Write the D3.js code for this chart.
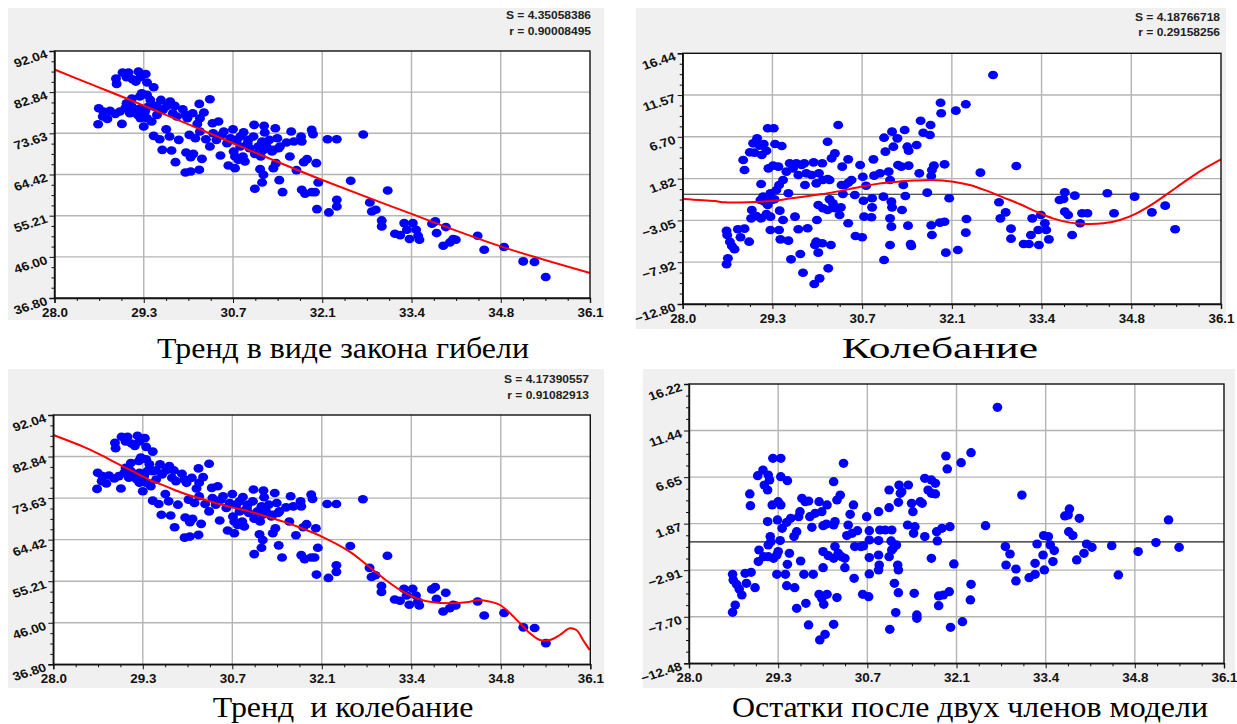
<!DOCTYPE html>
<html>
<head>
<meta charset="utf-8">
<script src="https://cdn.jsdelivr.net/npm/d3@7"></script>
<style>
  body { margin: 0; background: #ffffff; }
  svg { display: block; }
</style>
</head>
<body>
<svg id="chart" width="1237" height="724"></svg>
<script>
// ---- axis ticks ----
const xTickValues = [28.0, 29.35, 30.7, 32.05, 33.4, 34.75, 36.1];
const xTickLabels = ["28.0", "29.3", "30.7", "32.1", "33.4", "34.8", "36.1"];
const obsYTicks = [36.80, 46.00, 55.21, 64.42, 73.63, 82.84, 92.04];
const oscYTicks = [-12.80, -7.92, -3.05, 1.82, 6.70, 11.57, 16.44];
const residYTicks = [-12.48, -7.70, -2.91, 1.87, 6.65, 11.44, 16.22];

// ---- observations [x, y] ----
const observations = [
  [28.93,85.87],[28.94,84.68],[29.03,87.21],[29.12,87.21],[29.09,86.17],[29.18,85.72],[29.27,87.43],[29.30,86.17],
  [29.38,86.91],[29.40,84.98],[29.50,83.93],[29.23,85.20],[29.32,82.59],[29.40,82.22],[29.29,81.85],
  [28.67,79.24],[28.66,75.67],[28.73,77.38],[28.80,76.86],[28.84,78.65],[28.92,77.98],[29.02,75.74],[29.07,79.24],
  [29.17,81.40],[29.14,78.12],[29.22,78.87],[29.26,77.75],[29.35,75.14],[29.40,77.01],[29.47,76.26],[29.50,79.61],
  [29.55,77.75],[29.61,81.10],[29.64,78.87],[29.70,79.76],[29.75,80.73],[29.79,78.12],[29.82,79.76],[29.85,77.38],
  [29.94,79.02],[29.98,77.75],[30.01,77.01],[30.09,78.12],[30.16,75.74],[30.19,80.21],[30.26,78.27],[30.35,81.25],
  [30.20,77.01],[29.45,81.10],[29.55,79.76],
  [29.50,73.06],[29.59,72.32],[29.69,74.55],[29.74,72.91],[29.63,69.93],[29.77,69.78],[29.83,67.18],[29.88,72.17],
  [29.98,64.87],[30.06,65.10],[30.19,65.47],[29.99,69.34],[30.06,68.30],[30.10,69.04],[30.23,67.92],[30.04,73.28],
  [30.13,72.54],[30.20,74.03],[30.29,72.32],[30.35,70.68],[30.39,75.89],[30.48,76.26],[30.40,73.66],[30.51,68.67],
  [30.53,73.28],[30.61,71.42],[30.63,66.44],[30.70,74.55],[30.73,65.84],[30.71,69.56],[30.76,72.17],[30.81,70.68],
  [30.85,68.44],[30.88,67.33],[30.86,73.88],[30.92,71.42],[30.95,70.31],[31.02,75.52],[31.01,72.91],[31.03,69.04],
  [31.08,70.68],[31.12,68.44],[31.17,75.30],[31.18,73.81],[31.11,65.62],[31.16,64.35],[31.14,62.64],[31.03,61.22],
  [31.21,70.68],[31.25,72.17],[31.29,69.56],[31.34,74.77],[31.37,72.54],[31.39,70.31],[31.31,65.84],[31.35,66.96],
  [31.40,63.16],[31.45,60.48],[31.51,71.57],[31.56,68.44],[31.58,74.03],[31.62,71.80],[31.66,65.40],[31.73,72.91],
  [31.74,71.80],[31.77,67.18],[31.82,67.85],[31.89,74.40],[31.91,73.43],[31.74,61.00],[31.79,60.11],[31.89,60.48],
  [31.94,60.48],[31.96,66.96],[31.97,56.68],[31.99,62.64],
  [32.13,72.32],[32.27,72.32],[32.67,73.36],[32.15,55.94],[32.27,58.76],[32.27,57.28],[32.48,63.01],[32.77,58.17],
  [32.80,56.16],[32.86,56.53],[33.04,60.85],[32.95,54.15],[32.95,52.81],[33.15,51.17],[33.23,50.87],[33.29,53.55],
  [33.33,52.06],[33.37,49.98],[33.42,53.55],[33.47,52.06],[33.50,50.72],[33.52,49.83],[33.71,53.40],[33.76,53.93],
  [33.78,51.32],[33.92,52.66],[33.88,48.49],[33.98,49.23],[34.03,49.98],[34.07,49.83],[34.40,50.72],[34.50,47.60],
  [34.80,48.19],[35.09,44.99],[35.26,44.84],[35.43,41.49],
  [29.09,80.36],[29.17,79.61],[29.30,79.24],[29.37,78.50],[29.42,79.61],[28.99,78.50],[28.74,78.50],[29.30,77.01],
  [30.45,72.17],[30.66,72.54],[30.56,74.03],[30.81,72.91],[30.93,72.17],[30.73,68.44],[30.78,67.70],[31.16,69.93],
  [31.31,69.93],[31.41,70.68],[31.14,71.80]
];

// ---- fitted trend ("закон гибели") ----
const trendCurve = [
  [28.0,87.9],[28.5,84.9],[29.35,79.84],[30.7,71.4],[31.71,65.2],[32.05,63.2],[33.4,55.6],[34.75,48.35],[36.1,42.4]
];

// ---- residuals after the trend [x, y] ----
const oscResiduals = [
  [28.66,-4.25],[28.67,-4.75],[28.71,-5.53],[28.74,-6.03],[28.78,-6.42],[28.83,-4.09],[28.87,-5.02],[28.93,-4.01],
  [29.00,-5.53],[28.68,-7.47],[28.66,-8.17],[28.91,4.00],[28.93,2.83],[29.01,4.89],[29.06,5.94],[29.12,6.52],
  [29.08,4.85],[29.16,5.67],[29.19,4.58],[29.22,5.86],[29.26,5.08],[29.28,7.69],[29.37,7.69],[29.29,3.02],
  [29.36,3.34],[29.39,5.86],[29.44,3.22],[29.49,5.63],[29.18,1.20],[29.21,-0.28],[29.17,-0.67],[29.23,-0.86],
  [29.28,-1.25],[29.34,-0.67],[29.38,-0.59],[29.32,0.11],[29.04,-1.84],[29.03,-2.81],[29.11,-2.54],[29.18,-2.81],
  [29.26,-2.30],[29.32,-2.61],[29.32,-4.17],[29.45,-4.17],[29.46,-1.91],[29.51,-3.00],[29.47,-5.26],[29.59,-5.41],
  [29.41,0.50],[29.45,1.08],[29.51,1.66],[29.59,0.11],[29.56,2.64],[29.61,3.61],[29.66,3.02],[29.71,3.61],
  [29.74,2.25],[29.79,3.41],[29.83,3.61],[29.84,1.08],[29.86,2.44],[29.94,2.25],[29.97,3.72],[30.01,1.27],
  [30.05,2.44],[30.10,3.61],[30.11,1.66],[30.18,1.78],[30.18,6.13],[30.21,1.66],[30.24,4.19],[30.29,4.77],
  [30.34,8.08],[30.40,3.22],[30.49,4.07],[29.69,-2.61],[29.74,-4.09],[29.88,-3.97],[29.63,-7.59],[29.77,-6.97],
  [29.81,-9.15],[29.98,-10.47],[30.06,-9.81],[30.19,-8.64],[29.99,-5.92],[30.01,-5.53],[30.04,-6.81],[30.10,-5.72],
  [30.23,-5.92],[30.02,-3.00],[30.04,-1.25],[30.11,-1.64],[30.18,-1.84],[30.21,-0.59],[30.26,-1.06],[30.29,-1.64],
  [30.38,-1.53],[30.36,-2.42],[30.39,1.08],[30.41,0.03],[30.44,1.08],[30.49,1.35],[30.49,-3.39],[30.54,1.66],
  [30.59,-0.09],[30.60,-4.87],[30.70,-5.02],[30.67,3.41],[30.71,2.05],[30.72,-0.75],[30.73,-2.61],[30.76,1.00],
  [30.85,-0.47],[30.85,-1.53],[30.84,-2.69],[30.87,4.07],[30.88,2.17],[30.97,2.44],[31.02,-0.28],[31.03,-7.67],
  [31.03,6.60],[31.05,4.97],[31.10,2.64],[31.12,1.66],[31.12,-5.92],[31.12,-2.81],[31.14,-3.78],[31.15,7.30],
  [31.17,5.55],[31.23,6.52],[31.14,-0.86],[31.15,-1.53],[31.24,3.41],[31.29,3.22],[31.30,-1.84],[31.32,1.08],
  [31.34,7.50],[31.38,5.55],[31.40,5.08],[31.40,3.34],[31.39,-3.66],[31.43,-5.80],[31.44,-6.03],[31.35,-0.20],
  [31.52,5.75],[31.56,2.44],[31.58,8.58],[31.62,7.18],[31.73,8.08],[31.72,6.91],[31.68,0.19],[31.75,2.83],
  [31.74,-3.62],[31.75,-4.75],[31.78,3.34],[31.74,2.13],[31.94,3.49],[32.01,-0.47],[31.87,-3.31],[31.94,-3.20],
  [31.96,-6.81],[32.14,-6.50],[31.88,10.68],[31.89,9.44],[32.11,9.75],[32.26,10.49],[32.27,-2.89],[32.26,-4.48],
  [32.48,2.52],[32.67,13.91],[33.02,3.30],[32.76,-0.94],[32.78,-2.81],[32.86,-2.11],[32.94,-4.01],[32.94,-5.18],
  [33.13,-5.80],[33.21,-5.80],[33.26,-2.81],[33.24,-4.75],[33.35,-4.17],[33.36,-5.92],[33.39,-2.42],[33.45,-3.39],
  [33.47,-4.17],[33.51,-5.26],[33.67,-0.67],[33.73,-0.55],[33.75,0.23],[33.75,-2.03],[33.80,-2.42],[33.90,-0.16],
  [33.86,-4.75],[33.98,-3.39],[34.01,-2.22],[34.09,-2.22],[34.39,0.11],[34.49,-2.22],[34.80,-0.28],[35.06,-2.11],
  [35.26,-1.33],[35.41,-4.09]
];

// ---- fitted oscillation ----
const oscCurve = [
  [28.0,-0.55],[28.48,-0.79],[28.63,-0.94],[28.98,-0.94],[29.33,-0.79],[29.64,-0.47],[29.99,-0.09],[30.24,0.19],
  [30.49,0.57],[30.74,0.96],[30.99,1.27],[31.24,1.47],[31.49,1.59],[31.74,1.66],[32.07,1.47],[32.32,1.08],
  [32.57,0.42],[32.82,-0.36],[33.07,-1.14],[33.32,-2.03],[33.57,-2.81],[33.83,-3.31],[34.08,-3.47],[34.33,-3.39],
  [34.58,-3.00],[34.83,-2.22],[35.08,-1.10],[35.33,0.25],[35.58,1.62],[35.83,2.90],[36.1,4.07]
];

// ---- trend plus oscillation ----
const trendOscCurve = [
  [28.0,87.61],[28.45,85.03],[28.70,83.33],[28.96,81.33],[29.21,79.49],[29.46,77.64],[29.71,76.17],[29.96,74.69],
  [30.21,73.58],[30.46,72.47],[30.71,71.51],[30.97,70.63],[31.22,69.52],[31.47,68.41],[31.72,67.10],[32.05,65.09],
  [32.47,61.76],[32.73,58.81],[32.98,55.85],[33.23,53.27],[33.48,51.42],[33.73,50.54],[33.98,50.32],[34.23,50.54],
  [34.42,51.05],[34.59,50.67],[34.74,49.94],[34.89,48.10],[35.04,45.88],[35.19,43.67],[35.34,42.18],[35.49,42.18],
  [35.64,43.29],[35.79,44.78],[35.89,44.40],[35.99,42.18],[36.09,39.97]
];

// ---- residuals after both terms [x, y] ----
const finalResiduals = [
  [28.66,-3.34],[28.67,-3.92],[28.72,-4.36],[28.76,-4.84],[28.80,-5.46],[28.85,-3.23],[28.87,-4.26],[28.94,-3.13],
  [29.00,-4.71],[28.70,-6.49],[28.66,-7.24],[28.92,4.92],[28.93,3.72],[29.04,6.80],[29.12,7.38],[29.14,5.84],
  [29.20,6.87],[29.22,6.36],[29.19,5.33],[29.27,8.58],[29.39,8.58],[29.39,6.70],[29.49,6.29],[29.26,3.79],
  [29.35,4.13],[29.39,3.79],[29.19,2.08],[29.34,2.25],[29.41,1.39],[29.38,0.13],[29.23,0.54],[29.20,-0.32],
  [29.24,0.02],[29.06,-0.84],[29.05,-2.03],[29.13,-1.52],[29.20,-1.52],[29.28,-1.69],[29.33,-1.35],[29.35,-1.00],
  [29.33,-3.34],[29.46,-3.34],[29.49,-2.31],[29.52,-1.18],[29.48,-4.50],[29.60,-4.71],[29.63,-6.83],[29.77,-6.32],
  [29.69,-1.97],[29.74,-3.34],[29.88,-3.34],[29.81,-8.54],[29.98,-10.08],[30.06,-9.50],[30.19,-8.47],[29.48,2.01],
  [29.54,2.42],[29.59,0.54],[29.63,1.05],[29.66,2.59],[29.68,3.10],[29.71,4.47],[29.76,4.13],[29.81,4.20],
  [29.83,2.59],[29.86,1.49],[29.91,2.93],[29.97,4.13],[30.01,3.10],[30.03,1.66],[30.09,3.79],[30.08,1.83],
  [30.19,1.73],[30.21,2.08],[30.24,4.30],[30.29,4.81],[30.19,6.18],[30.34,8.07],[30.03,-1.00],[30.11,-1.42],
  [30.19,-1.69],[30.21,-0.49],[30.26,-1.18],[30.31,-1.52],[30.36,-1.69],[30.36,-2.65],[30.41,1.73],[30.39,0.64],
  [30.44,2.83],[30.49,3.79],[30.47,0.88],[30.51,-0.49],[30.55,1.15],[30.60,-0.49],[30.64,-0.42],[30.69,2.59],
  [30.73,1.15],[30.73,0.19],[30.73,-1.62],[30.73,-3.30],[30.87,3.10],[30.89,1.22],[30.87,0.13],[30.87,-1.35],
  [30.88,-2.38],[30.87,-2.89],[30.97,1.22],[31.03,5.33],[31.03,3.51],[31.07,1.22],[31.06,0.09],[31.07,-0.84],
  [31.03,-1.52],[31.09,-0.66],[31.14,-0.32],[31.18,5.84],[31.20,4.99],[31.17,4.06],[31.22,5.16],[31.16,-2.38],
  [31.17,-2.89],[31.11,-4.26],[31.17,-5.22],[31.13,-7.27],[31.04,-8.99],[31.32,5.84],[31.31,1.73],[31.37,3.96],
  [31.39,3.10],[31.42,1.56],[31.40,0.88],[31.41,-5.29],[31.45,-7.51],[31.45,-7.86],[31.50,4.13],[31.53,3.96],
  [31.57,6.53],[31.57,0.54],[31.62,5.33],[31.67,4.99],[31.67,-1.69],[31.67,6.36],[29.97,-5.39],[30.01,-5.80],
  [30.04,-6.42],[30.09,-5.39],[30.24,-5.73],[30.03,-2.65],[30.50,-3.75],[30.63,-5.39],[30.72,-5.63],
  [31.73,6.01],[31.73,4.92],[31.75,1.05],[31.76,0.09],[31.83,1.39],[31.95,1.56],[31.89,8.82],[31.91,7.49],
  [32.12,8.14],[32.27,9.16],[32.01,-2.27],[31.78,-5.56],[31.78,-6.56],[31.85,-5.46],[31.94,-5.12],[31.96,-8.78],
  [32.14,-8.20],[32.27,-4.36],[32.26,-5.97],[32.49,1.66],[32.67,13.82],[33.04,4.81],[32.79,-0.49],[32.86,-1.25],
  [32.80,-2.38],[32.95,-2.79],[32.95,-4.02],[33.15,-3.68],[33.24,-3.34],[33.27,-0.22],[33.24,-2.21],[33.37,0.64],
  [33.44,0.54],[33.47,-0.32],[33.36,-1.35],[33.38,-2.89],[33.51,-2.03],[33.53,-0.90],[33.69,2.66],[33.76,3.38],
  [33.74,2.76],[33.91,2.42],[33.75,1.05],[33.81,0.64],[33.87,-1.86],[33.98,-1.18],[34.02,-0.22],[34.10,-0.56],
  [34.40,-0.39],[34.50,-3.40],[34.80,-1.00],[35.07,-0.07],[35.26,2.25],[35.42,-0.56]
];

// ---- fit statistics and captions ----
const trendStats = ["S = 4.35058386", "r = 0.90008495"];
const oscStats = ["S = 4.18766718", "r = 0.29158256"];
const bothStats = ["S = 4.17390557", "r = 0.91082913"];
const captions = ["Тренд в виде закона гибели", "Колебание", "Тренд  и колебание", "Остатки после двух членов модели"];

// ---- layout of the four plots ----
const panels = [
  { box: [8, 8, 596, 312], plot: [54.5, 51, 590, 298], yTicks: obsYTicks, points: observations, curve: trendCurve,
    zero: false, stats: trendStats, statsAt: [591, 19], caption: captions[0], capAt: [343, 358], capScale: 1.1, rx: 5, ry: 4.3 },
  { box: [636, 8, 590, 321], plot: [682.7, 53.3, 1221, 304], yTicks: oscYTicks, points: oscResiduals, curve: oscCurve,
    zero: true, stats: oscStats, statsAt: [1220, 20.5], caption: captions[1], capAt: [940, 358], capScale: 1.5, rx: 5, ry: 4.3 },
  { box: [8, 369, 596, 319], plot: [53.3, 415, 590.3, 664.3], yTicks: obsYTicks, points: observations, curve: trendOscCurve,
    zero: false, stats: bothStats, statsAt: [589, 383.3], caption: captions[2], capAt: [343, 717], capScale: 1.1, rx: 5, ry: 4.3 },
  { box: [643, 369, 592, 319], plot: [689, 384, 1224, 663.3], yTicks: residYTicks, points: finalResiduals, curve: null,
    zero: true, stats: null, statsAt: null, caption: captions[3], capAt: [970, 717], capScale: 1.1, rx: 4.8, ry: 4.6 }
];

const svg = d3.select("#chart");
const tickFont = "'Liberation Sans', Arial, sans-serif";

function minorTicks(major) {
  const out = [];
  for (let i = 0; i < major.length - 1; i++) {
    const step = (major[i + 1] - major[i]) / 4;
    for (let k = 1; k < 4; k++) out.push(major[i] + k * step);
  }
  return out;
}

panels.forEach(p => {
  const [bx, by, bw, bh] = p.box;
  const [l, t, r, b] = p.plot;
  const g = svg.append("g");

  g.append("rect").attr("x", bx).attr("y", by).attr("width", bw).attr("height", bh).attr("fill", "#f0f0f0");
  g.append("rect").attr("x", l).attr("y", t).attr("width", r - l).attr("height", b - t).attr("fill", "#ffffff");

  const yTicks = p.yTicks;
  const x = d3.scaleLinear().domain([xTickValues[0], xTickValues[xTickValues.length - 1]]).range([l, r]);
  const y = d3.scaleLinear().domain([yTicks[0], yTicks[yTicks.length - 1]]).range([b, t]);

  // grid
  const grid = g.append("g").attr("stroke", "#b4b4b4").attr("stroke-width", 1.4);
  grid.selectAll("line.v").data(xTickValues.slice(1, -1)).join("line")
    .attr("x1", d => x(d)).attr("x2", d => x(d)).attr("y1", t).attr("y2", b);
  grid.selectAll("line.h").data(yTicks.slice(1, -1)).join("line")
    .attr("x1", l).attr("x2", r).attr("y1", d => y(d)).attr("y2", d => y(d));

  if (p.zero) {
    g.append("line").attr("x1", l).attr("x2", r).attr("y1", y(0)).attr("y2", y(0))
      .attr("stroke", "#202020").attr("stroke-width", 1.2);
  }

  // points
  g.append("g").attr("fill", "#0000ff")
    .selectAll("ellipse").data(p.points).join("ellipse")
    .attr("cx", d => x(d[0])).attr("cy", d => y(d[1])).attr("rx", p.rx).attr("ry", p.ry);

  // fitted curve
  if (p.curve) {
    const line = d3.line().x(d => x(d[0])).y(d => y(d[1])).curve(d3.curveCatmullRom.alpha(0.5));
    g.append("path").datum(p.curve).attr("d", line)
      .attr("fill", "none").attr("stroke", "#ff0000").attr("stroke-width", 2);
  }

  // frame
  g.append("rect").attr("x", l).attr("y", t).attr("width", r - l).attr("height", b - t)
    .attr("fill", "none").attr("stroke", "#111").attr("stroke-width", 1.4);

  // x axis
  const xAxis = g.append("g").attr("transform", `translate(0,${b})`)
    .call(d3.axisBottom(x).tickValues(xTickValues).tickFormat((d, i) => xTickLabels[i]).tickSize(5).tickPadding(5));
  g.append("g").attr("transform", `translate(0,${b})`)
    .call(d3.axisBottom(x).tickValues(minorTicks(xTickValues)).tickFormat("").tickSize(3))
    .select(".domain").remove();
  xAxis.selectAll("text").attr("transform", "scale(1.12,1)")
    .attr("font-family", tickFont).attr("font-weight", "bold").attr("font-size", 12).attr("fill", "#111");

  // y axis
  const yAxis = g.append("g").attr("transform", `translate(${l},0)`)
    .call(d3.axisLeft(y).tickValues(yTicks).tickFormat(d3.format(".2f")).tickSize(5));
  g.append("g").attr("transform", `translate(${l},0)`)
    .call(d3.axisLeft(y).tickValues(minorTicks(yTicks)).tickFormat("").tickSize(3))
    .select(".domain").remove();
  yAxis.selectAll("text")
    .attr("x", 0).attr("y", 0).attr("dy", null)
    .attr("transform", "translate(-6,6) scale(1.15,1) rotate(-20)")
    .attr("font-family", tickFont).attr("font-weight", "bold").attr("font-size", 12).attr("fill", "#111");
  g.selectAll(".domain").attr("stroke", "#111").attr("stroke-width", 1.4);
  g.selectAll(".tick line").attr("stroke", "#111");

  // fit statistics
  if (p.stats) {
    g.append("g").selectAll("text").data(p.stats).join("text")
      .attr("transform", (d, i) => `translate(${p.statsAt[0]},${p.statsAt[1] + i * 15.5}) scale(1.2,1)`)
      .attr("text-anchor", "end").attr("font-family", tickFont).attr("font-weight", "bold")
      .attr("font-size", 10).attr("fill", "#222").text(d => d);
  }

  // caption
  svg.append("text")
    .attr("transform", `translate(${p.capAt[0]},${p.capAt[1]}) scale(${p.capScale},1)`)
    .attr("text-anchor", "middle")
    .style("white-space", "pre")
    .attr("font-family", "'Liberation Serif', 'Times New Roman', serif").attr("font-size", 29)
    .attr("fill", "#000").text(p.caption);
});
</script>
</body>
</html>
